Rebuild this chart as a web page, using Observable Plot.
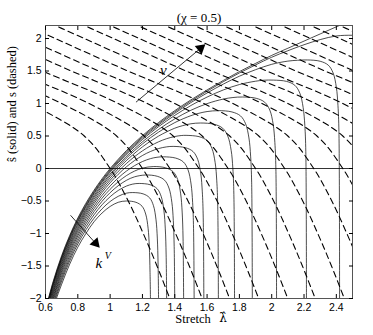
<!DOCTYPE html>
<html><head><meta charset="utf-8">
<script src="https://cdn.jsdelivr.net/npm/d3@7"></script>
<script src="https://cdn.jsdelivr.net/npm/@observablehq/plot@0.6"></script>
<style>
body{margin:0;background:#fff}
g[aria-label="axis-title"] text{letter-spacing:0.9px}
g[aria-label="chart-title"] text{letter-spacing:0.8px}
</style>
</head><body><div id="chart"></div>
<script>
const title = "(χ = 0.5)";
const xLabelWord = "Stretch";
const xLabelSymbol = "λ̂";
const yLabel = "ŝ (solid) and s (dashed)";
const xTicks = [0.6, 0.8, 1, 1.2, 1.4, 1.6, 1.8, 2, 2.2, 2.4];
const yTicks = [-2, -1.5, -1, -0.5, 0, 0.5, 1, 1.5, 2];

// solid curves: stretch values and s-hat values (one row per curve)
const solidLambda = [
 [0.656,0.70,0.75,0.80,0.85,0.90,0.95,1.00,1.05,1.10,1.16,1.1975,1.22,1.235,1.2425,1.247,1.25],
 [0.651,0.70,0.75,0.80,0.85,0.90,0.95,1.00,1.05,1.10,1.14,1.204,1.244,1.268,1.284,1.292,1.2968,1.30],
 [0.647,0.70,0.75,0.80,0.85,0.90,0.95,1.00,1.05,1.10,1.14,1.18,1.248,1.2905,1.316,1.333,1.3415,1.3466,1.35],
 [0.642,0.70,0.75,0.80,0.85,0.90,0.95,1.00,1.05,1.10,1.15,1.22,1.292,1.337,1.364,1.382,1.391,1.3964,1.40],
 [0.638,0.70,0.75,0.80,0.85,0.90,0.95,1.00,1.05,1.10,1.15,1.20,1.27,1.344,1.39,1.418,1.4365,1.4458,1.4513,1.455],
 [0.6345,0.70,0.75,0.80,0.85,0.90,0.95,1.00,1.05,1.10,1.15,1.20,1.25,1.29,1.33,1.406,1.4535,1.482,1.501,1.5105,1.5162,1.52],
 [0.631,0.65,0.70,0.75,0.80,0.85,0.90,0.95,1.00,1.05,1.10,1.15,1.20,1.25,1.30,1.35,1.39,1.466,1.5135,1.542,1.561,1.5705,1.5762,1.58],
 [0.628,0.65,0.70,0.75,0.80,0.85,0.90,0.95,1.00,1.05,1.10,1.15,1.20,1.25,1.30,1.35,1.40,1.44,1.47,1.55,1.60,1.63,1.65,1.66,1.666,1.67],
 [0.624,0.65,0.70,0.75,0.80,0.85,0.90,0.95,1.00,1.05,1.10,1.20,1.30,1.40,1.45,1.50,1.56,1.644,1.6965,1.728,1.749,1.7595,1.7658,1.77],
 [0.621,0.65,0.70,0.75,0.80,0.90,1.00,1.10,1.20,1.30,1.40,1.50,1.55,1.60,1.67,1.754,1.8065,1.838,1.859,1.8695,1.8758,1.88],
 [0.6185,0.65,0.70,0.75,0.80,0.90,1.00,1.10,1.20,1.30,1.40,1.50,1.60,1.70,1.76,1.82,1.904,1.9565,1.988,2.009,2.0195,2.0258,2.03],
 [0.6155,0.65,0.70,0.75,0.80,0.90,1.00,1.10,1.20,1.30,1.40,1.50,1.60,1.70,1.80,1.90,1.95,2.01,2.092,2.143,2.174,2.1945,2.205,2.211,2.215],
 [0.6135,0.65,0.70,0.75,0.80,0.90,1.00,1.10,1.20,1.30,1.40,1.50,1.60,1.70,1.80,1.90,2.00,2.10,2.16,2.22,2.30,2.35,2.38,2.40,2.41,2.416,2.42],
 [0.6115,0.65,0.70,0.75,0.80,0.90,1.00,1.10,1.20,1.30,1.40,1.50,1.60,1.70,1.80,1.90,2.00,2.10,2.20,2.30,2.40,2.50,2.55],
 [0.6095,0.65,0.70,0.75,0.80,0.85,0.90,0.95,1.00,1.10,1.20,1.30,1.40,1.50,1.60,1.70,1.80,1.90,2.00,2.10,2.20,2.30,2.40,2.50]
];
const solidS = [
 [-2.08,-1.78,-1.47,-1.21,-1.00,-0.82,-0.685,-0.584,-0.52,-0.50,-0.52,-0.58,-0.70,-0.92,-1.20,-1.60,-2.08],
 [-2.08,-1.73,-1.42,-1.16,-0.944,-0.766,-0.62,-0.508,-0.428,-0.38,-0.37,-0.39,-0.45,-0.57,-0.79,-1.07,-1.47,-2.08],
 [-2.08,-1.69,-1.38,-1.118,-0.898,-0.713,-0.558,-0.434,-0.338,-0.271,-0.24,-0.23,-0.25,-0.31,-0.43,-0.65,-0.93,-1.33,-2.08],
 [-2.08,-1.65,-1.34,-1.076,-0.853,-0.665,-0.504,-0.372,-0.265,-0.183,-0.129,-0.10,-0.12,-0.18,-0.30,-0.52,-0.80,-1.20,-2.08],
 [-2.08,-1.61,-1.30,-1.036,-0.812,-0.621,-0.457,-0.319,-0.204,-0.111,-0.041,0.006,0.03,0.01,-0.05,-0.17,-0.39,-0.67,-1.07,-2.08],
 [-2.08,-1.576,-1.264,-1.00,-0.774,-0.581,-0.413,-0.268,-0.145,-0.041,0.042,0.107,0.152,0.173,0.18,0.16,0.10,-0.02,-0.24,-0.52,-0.92,-2.08],
 [-2.08,-1.92,-1.541,-1.228,-0.964,-0.737,-0.541,-0.369,-0.219,-0.089,0.025,0.12,0.20,0.262,0.307,0.333,0.34,0.32,0.26,0.14,-0.08,-0.36,-0.76,-2.08],
 [-2.08,-1.89,-1.511,-1.198,-0.933,-0.705,-0.508,-0.334,-0.181,-0.045,0.075,0.18,0.271,0.348,0.411,0.459,0.492,0.507,0.51,0.49,0.43,0.31,0.09,-0.19,-0.59,-2.08],
 [-2.08,-1.86,-1.481,-1.168,-0.903,-0.674,-0.476,-0.30,-0.145,-0.005,0.12,0.333,0.499,0.62,0.66,0.688,0.70,0.68,0.62,0.50,0.28,0.0,-0.40,-2.08],
 [-2.08,-1.83,-1.451,-1.138,-0.873,-0.446,-0.112,0.157,0.378,0.56,0.706,0.813,0.85,0.876,0.89,0.87,0.81,0.69,0.47,0.19,-0.21,-2.08],
 [-2.08,-1.80,-1.426,-1.113,-0.848,-0.42,-0.086,0.185,0.411,0.601,0.763,0.896,0.998,1.068,1.092,1.10,1.08,1.02,0.90,0.68,0.40,0.0,-2.08],
 [-2.08,-1.77,-1.397,-1.084,-0.819,-0.391,-0.056,0.217,0.446,0.644,0.817,0.969,1.099,1.208,1.292,1.343,1.358,1.36,1.34,1.28,1.16,0.94,0.66,0.26,-2.08],
 [-2.08,-1.755,-1.379,-1.066,-0.80,-0.373,-0.038,0.236,0.468,0.669,0.85,1.014,1.162,1.298,1.42,1.52,1.603,1.652,1.665,1.67,1.65,1.59,1.47,1.25,0.97,0.57,-2.08],
 [-2.08,-1.736,-1.36,-1.047,-0.78,-0.354,-0.019,0.255,0.487,0.689,0.871,1.037,1.19,1.335,1.47,1.594,1.712,1.812,1.904,1.983,2.039,2.05,2.045],
 [-2.08,-1.717,-1.341,-1.028,-0.7625,-0.534,-0.335,-0.158,0,0.274,0.506,0.708,0.89,1.056,1.209,1.354,1.491,1.617,1.74,1.85,1.96,2.07,2.18,2.28]
];

// dashed curves: s levels shared by all, stretch per curve at each level
const dashedLevels = [-2.1, -1.5, -1, -0.5, 0, 0.5, 1, 1.5, 2, 2.4];
const dashedLambda = [
 [1.385,1.29,1.205,1.112,1.00,0.84,0.50,0.03,-0.42,-0.78],
 [1.585,1.49,1.405,1.312,1.20,1.04,0.70,0.23,-0.22,-0.58],
 [1.755,1.66,1.575,1.482,1.37,1.21,0.87,0.40,-0.05,-0.41],
 [1.935,1.84,1.755,1.662,1.55,1.39,1.05,0.58,0.13,-0.23],
 [2.115,2.02,1.935,1.842,1.73,1.57,1.23,0.76,0.31,-0.05],
 [2.285,2.19,2.105,2.012,1.90,1.74,1.40,0.93,0.48,0.12],
 [2.465,2.37,2.285,2.192,2.08,1.92,1.58,1.11,0.66,0.30],
 [2.645,2.55,2.465,2.372,2.26,2.10,1.76,1.29,0.84,0.48],
 [2.825,2.73,2.645,2.552,2.44,2.28,1.94,1.47,1.02,0.66],
 [2.985,2.89,2.805,2.712,2.60,2.44,2.10,1.63,1.18,0.82],
 [3.155,3.06,2.975,2.882,2.77,2.61,2.27,1.80,1.35,0.99],
 [3.325,3.23,3.145,3.052,2.94,2.78,2.44,1.97,1.52,1.16],
 [3.505,3.41,3.325,3.232,3.12,2.96,2.62,2.15,1.70,1.34],
 [3.685,3.59,3.505,3.412,3.30,3.14,2.80,2.33,1.88,1.52],
 [3.865,3.77,3.685,3.592,3.48,3.32,2.98,2.51,2.06,1.70],
 [4.045,3.95,3.865,3.772,3.66,3.50,3.16,2.69,2.24,1.88],
 [4.225,4.13,4.045,3.952,3.84,3.68,3.34,2.87,2.42,2.06],
 [4.405,4.31,4.225,4.132,4.02,3.86,3.52,3.05,2.60,2.24]
];

// annotations
const arrowStart = [{x: 1.16, y: 1.02}, {x: 0.755, y: -0.72}];
const arrowEnd = [{x: 1.56, y: 1.85, rot: 50}, {x: 0.91, y: -1.15, rot: 138}];
const nuLabel = [{x: 1.33, y: 1.52, text: "ν"}];
const kLabel = [{x: 0.93, y: -1.45, text: "k", sup: "V"}];

const solidRows = solidLambda.flatMap((ls, i) => ls.map((l, j) => ({curve: i, lam: l, s: solidS[i][j]})));
const dashedRows = dashedLambda.flatMap((ls, i) => ls.map((l, j) => ({curve: i, lam: l, s: dashedLevels[j]})));
const arrowRows = arrowStart.map((a, i) => ({x1: a.x, y1: a.y, x2: arrowEnd[i].x, y2: arrowEnd[i].y, rot: arrowEnd[i].rot}));

const serif = "'Liberation Serif', 'DejaVu Serif', serif";

const chart = Plot.plot({
  width: 373, height: 335,
  marginLeft: 45, marginRight: 21, marginTop: 25, marginBottom: 37,
  x: {domain: [0.6, 2.5]},
  y: {domain: [-2, 2.2]},
  style: {fontFamily: "'Liberation Sans', Arial, sans-serif", fontSize: "10.5px", background: "#fff", color: "#000"},
  marks: [
    Plot.line(dashedRows, {x: "lam", y: "s", z: "curve", curve: "catmull-rom", stroke: "#000", strokeWidth: 1.1, strokeDasharray: "6,4", clip: true}),
    Plot.line(solidRows, {x: "lam", y: "s", z: "curve", curve: "catmull-rom", stroke: "#000", strokeWidth: 0.7, clip: true}),
    Plot.ruleY([0], {stroke: "#000", strokeWidth: 0.8}),
    Plot.link(arrowRows, {x1: "x1", y1: "y1", x2: "x2", y2: "y2", stroke: "#000", strokeWidth: 0.8}),
    Plot.dot(arrowRows, {x: "x2", y: "y2", symbol: "triangle", rotate: "rot", r: 4, fill: "#000", stroke: null}),
    Plot.text(nuLabel, {x: "x", y: "y", text: "text", fontFamily: serif, fontStyle: "italic", fontSize: 15}),
    Plot.text(kLabel, {x: "x", y: "y", text: "text", fontFamily: serif, fontStyle: "italic", fontSize: 15}),
    Plot.text(kLabel, {x: "x", y: "y", text: "sup", fontFamily: serif, fontStyle: "italic", fontSize: 10, dx: 9, dy: -7}),
    Plot.frame({stroke: "#555", strokeWidth: 1}),
    Plot.axisX({ticks: xTicks, tickSize: -4, tickPadding: 9, label: null, tickFormat: d => String(d)}),
    Plot.axisX({anchor: "top", ticks: xTicks, tickSize: -4, label: null, tickFormat: () => ""}),
    Plot.axisY({ticks: yTicks, tickSize: -4, tickPadding: 8, label: null, tickFormat: d => d < 0 ? "\u2212" + String(-d) : String(d)}),
    Plot.axisY({anchor: "right", ticks: yTicks, tickSize: -4, label: null, tickFormat: () => ""}),
    Plot.text([title], {frameAnchor: "top", dy: -13, text: d => d, fontFamily: serif, fontSize: 13, ariaLabel: "chart-title"}),
    Plot.text([xLabelWord], {frameAnchor: "bottom", dx: -6, dy: 24, text: d => d, fontFamily: serif, fontSize: 12.5, ariaLabel: "axis-title"}),
    Plot.text([xLabelSymbol], {frameAnchor: "bottom", dx: 24, dy: 23, text: d => d, fontFamily: "'DejaVu Serif', serif", fontSize: 12}),
    Plot.text([yLabel], {frameAnchor: "left", dx: -34, rotate: -90, text: d => d, fontFamily: serif, fontSize: 12.5, ariaLabel: "axis-title"})
  ]
});
document.getElementById("chart").appendChild(chart);
</script>
</body></html>
